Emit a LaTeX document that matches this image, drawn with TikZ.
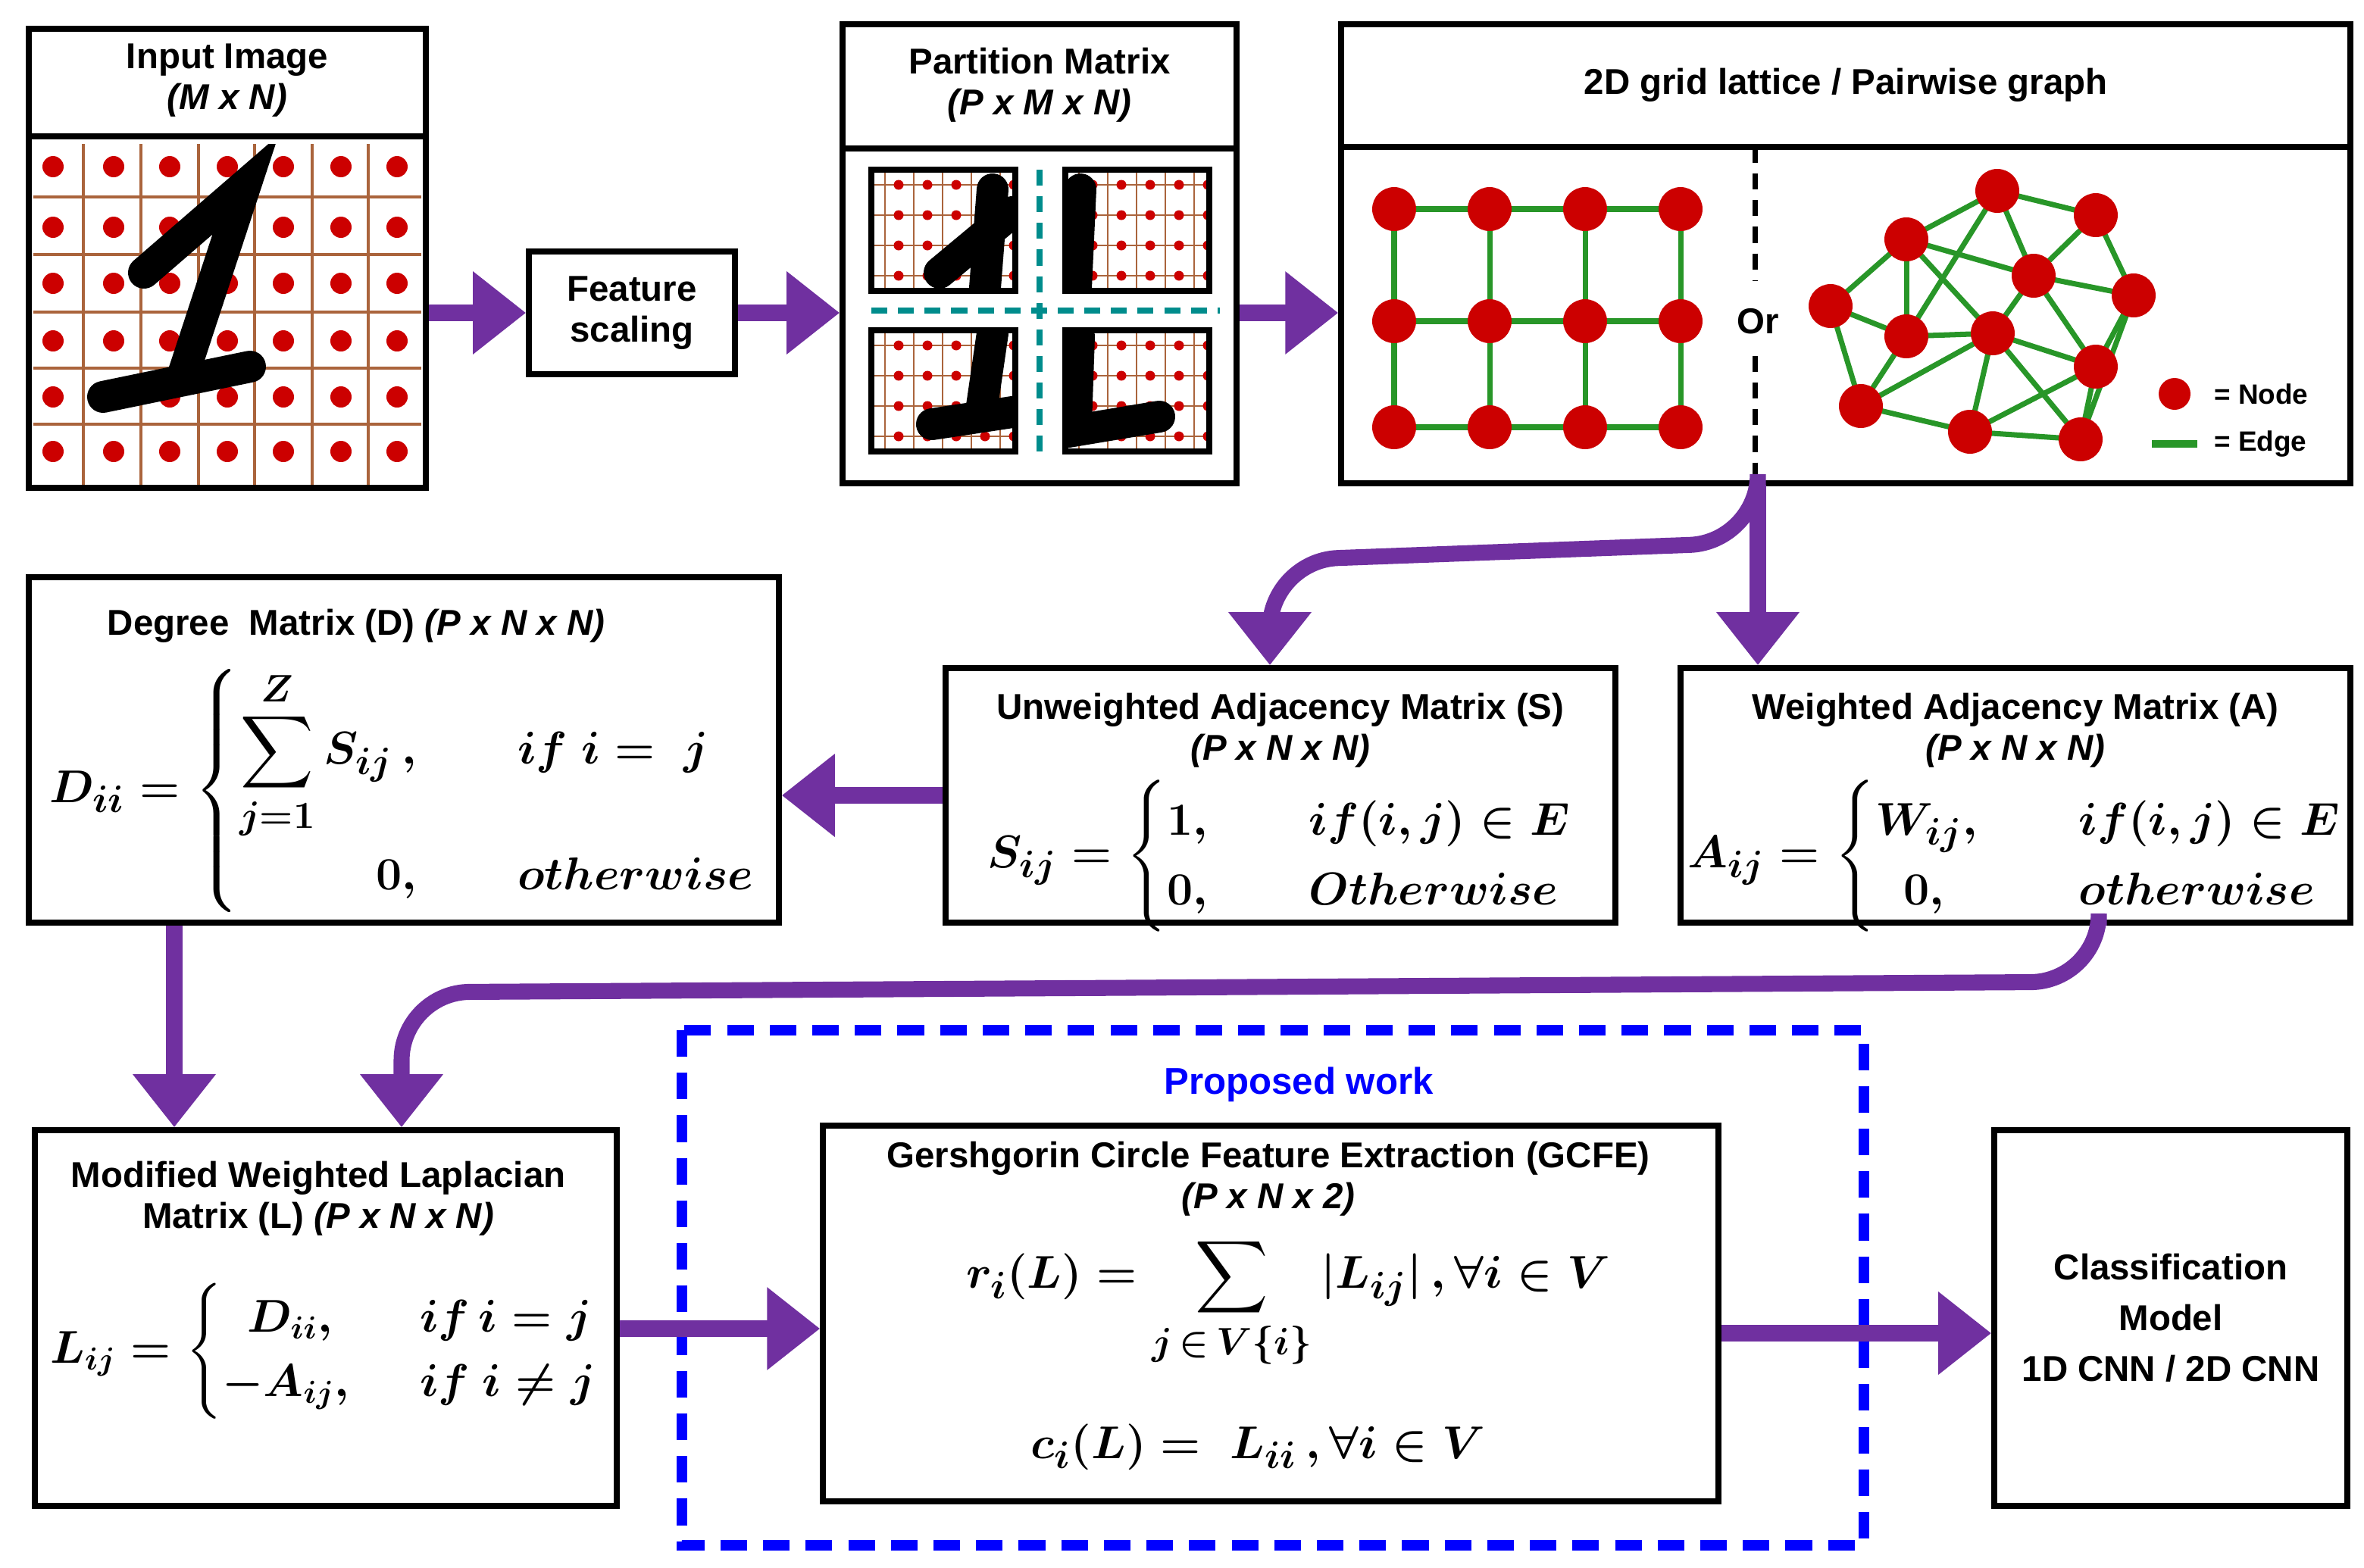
\documentclass[tikz,border=0pt]{standalone}
\usepackage{amsmath,amssymb}
\usepackage{fontspec}
\setmainfont{Liberation Sans}
\usetikzlibrary{arrows.meta}
\begin{document}
\begin{tikzpicture}[x=0.02cm,y=-0.02cm,
 box/.style={draw,line width=2.2pt,rectangle,inner sep=0},
 ttl/.style={font=\fontsize{13.5}{15.5}\selectfont\bfseries,align=center},
 eq/.style={font=\fontsize{19}{22}\selectfont\boldmath},
 parr/.style={line width=6pt,draw=arrp,-{Triangle[length=0.7cm,width=1.05cm]}},
 dot/.style={circle,fill=dotr,inner sep=0,minimum size=0.28cm},
 gn/.style={circle,fill=dotr,inner sep=0,minimum size=0.58cm},
 ge/.style={draw=edgeg,line width=2pt},
 one/.style={line width=0.42cm,line cap=round,black}]
\definecolor{arrp}{RGB}{112,48,160}
\definecolor{dotr}{RGB}{204,0,0}
\definecolor{edgeg}{RGB}{40,150,40}
\definecolor{gridb}{RGB}{170,100,60}
\definecolor{teal1}{RGB}{0,140,140}
\useasboundingbox (0,0) rectangle (1560,1035);
% boxes
\node[box,minimum width=5.24cm,minimum height=6.06cm] (inp) at (150,170.5) {};
\draw[line width=2.2pt] (18,90)--(282,90);
\node[ttl] (inpt) at (150,53) {Input Image\\\textit{(M x N)}};
\begin{scope}
\clip (22,95) rectangle (278,320);
\foreach \x in {55,93,131,168,206,243} \draw[gridb,line width=1pt] (\x,95)--(\x,320);
\foreach \y in {130,168,206,243,280} \draw[gridb,line width=1pt] (22,\y)--(278,\y);
\foreach \x in {35,75,112,150,187,225,262}
 \foreach \y in {110,150,187,225,262,298} \node[dot] at (\x,\y) {};
\draw[one] (95,180)--(162,122)--(120,250);
\draw[one] (68,262)--(165,242);
\end{scope}
\node[box,minimum width=2.72cm,minimum height=1.62cm,ttl] (fs) at (417,206.5) {Feature\\scaling};
\node[box,minimum width=5.2cm,minimum height=6.06cm] (par) at (686,167.5) {};
\draw[line width=2.2pt] (555,98)--(817,98);
\node[ttl] (part) at (686,56) {Partition Matrix\\\textit{(P x M x N)}};
\foreach \qx/\qy/\n in {575/112/a,703/112/b,575/218/c,703/218/d}{
 \begin{scope}
 \clip (\qx,\qy) rectangle ++(95,80);
 \foreach \i in {0,1,2,3,4} \draw[gridb,line width=0.8pt] ({\qx+9+19*\i},\qy)--++(0,80);
 \foreach \j in {0,1,2,3} \draw[gridb,line width=0.8pt] (\qx,{\qy+10+20*\j})--++(95,0);
 \foreach \i in {0,1,2,3,4} \foreach \j in {0,1,2,3} \node[dot,minimum size=0.13cm] at ({\qx+18+19*\i},{\qy+10+20*\j}) {};
 \end{scope}
 \draw[line width=2pt] (\qx,\qy) rectangle ++(95,80);}
\begin{scope}\clip (575,112) rectangle ++(95,80); \draw[one] (620,180)--(668,140); \draw[one] (655,125)--(650,190);\end{scope}
\begin{scope}\clip (703,112) rectangle ++(95,80); \draw[one] (713,125)--(710,190);\end{scope}
\begin{scope}\clip (575,218) rectangle ++(95,80); \draw[one] (655,220)--(648,268); \draw[one] (615,280)--(668,272);\end{scope}
\begin{scope}\clip (703,218) rectangle ++(95,80); \draw[one] (712,222)--(710,280); \draw[one] (705,285)--(765,275);\end{scope}
\draw[teal1,line width=2.5pt,dash pattern=on 6pt off 4pt] (686,112)--(686,300) (575,205)--(805,205);
\node[box,minimum width=13.32cm,minimum height=6.06cm] (grid) at (1218,167.5) {};
\draw[line width=2.2pt] (884,97)--(1552,97);
\node[ttl] (gridt) at (1218,56) {2D grid lattice / Pairwise graph};
\foreach \x [count=\i] in {920,983,1046,1109}{
 \foreach \y [count=\j] in {138,212,282}{\coordinate (g\i\j) at (\x,\y);}}
\foreach \i in {1,2,3,4} \draw[ge] (g\i1)--(g\i3);
\foreach \j in {1,2,3} \draw[ge] (g1\j)--(g4\j);
\foreach \i in {1,2,3,4} \foreach \j in {1,2,3} \node[gn] at (g\i\j) {};
\draw[line width=2pt,dash pattern=on 6pt off 4pt] (1158,97)--(1158,185) (1158,235)--(1158,320);
\node[ttl] (or) at (1160,212) {Or};
\foreach \n/\x/\y in {a/1318/126,b/1383/142,c/1258/158,d/1342/182,e/1408/195,f/1208/202,g/1258/222,h/1315/220,i/1383/242,j/1228/268,k/1300/285,l/1373/290}
 \coordinate (p\n) at (\x,\y);
\foreach \u/\v in {a/b,a/c,a/d,b/d,b/e,c/f,c/g,c/d,c/h,a/g,d/h,d/e,d/i,e/i,f/g,f/j,g/h,g/j,h/i,h/k,h/j,i/k,i/l,e/l,j/k,k/l,h/l}
 \draw[ge] (p\u)--(p\v);
\foreach \n in {a,b,c,d,e,f,g,h,i,j,k,l} \node[gn] at (p\n) {};
\node[gn,minimum size=0.42cm] (ln) at (1435,260) {};
\node[font=\fontsize{10.5}{12}\selectfont\bfseries,anchor=west] (lnt) at (1455,260) {= Node};
\coordinate (le1) at (1420,293); \coordinate (le2) at (1450,293);
\draw[ge,line width=3pt] (le1)--(le2);
\node[font=\fontsize{10.5}{12}\selectfont\bfseries,anchor=west] (let) at (1455,293) {= Edge};
% second row
\node[box,minimum width=9.9cm,minimum height=4.56cm] (deg) at (266.5,495) {};
\node[ttl] (degt) at (235,413) {Degree\ \ Matrix (D) \textit{(P x N x N)}};
\node[eq] (degeq) at (266,522) {$D_{ii}=\begin{cases}\displaystyle\sum_{j=1}^{Z} S_{ij}\,, & \quad if\ i=\ j\\[8pt] \hfill 0, & \quad otherwise\end{cases}$};
\node[box,minimum width=8.84cm,minimum height=3.36cm] (uw) at (845,525) {};
\node[ttl] (uwt) at (845,482) {Unweighted Adjacency Matrix (S)\\\textit{(P x N x N)}};
\node[eq] (uweq) at (845,565) {$S_{ij}=\begin{cases}1, & \quad if(i,j)\in E\\ 0, & \quad Otherwise\end{cases}$};
\node[box,minimum width=8.84cm,minimum height=3.36cm] (wa) at (1330,525) {};
\node[ttl] (wat) at (1330,482) {Weighted Adjacency Matrix (A)\\\textit{(P x N x N)}};
\node[eq] (waeq) at (1330,565) {$A_{ij}=\begin{cases}W_{ij}, & \quad if(i,j)\in E\\ \ \ 0, & \quad otherwise\end{cases}$};
% third row
\node[box,minimum width=7.68cm,minimum height=4.96cm] (lap) at (215,870) {};
\node[ttl] (lapt) at (210,791) {Modified Weighted Laplacian\\Matrix (L) \textit{(P x N x N)}};
\node[eq,font=\fontsize{17}{20}\selectfont\boldmath] (lapeq) at (214,892) {$L_{ij}=\begin{cases}\ \ D_{ii}, & \ \ if\,i=j\\ -A_{ij}, & \ \ if\ i\neq j\end{cases}$};
\draw[blue,line width=4pt,dash pattern=on 10pt off 6pt] (450,680) rectangle (1230,1020);
\node[font=\fontsize{14}{16}\selectfont\bfseries,text=blue] (pw) at (857,716) {Proposed work};
\node[box,minimum width=11.82cm,minimum height=4.96cm] (gc) at (838.5,867) {};
\node[ttl] (gct) at (837,778) {Gershgorin Circle Feature Extraction (GCFE)\\\textit{(P x N x 2)}};
\node[eq] (gceq1) at (850,860) {$r_i(L)=\displaystyle\sum_{j\,\in\, V\{i\}}|L_{ij}|\,,\forall i\in V$};
\node[eq] (gceq2) at (830,955) {$c_i(L)=\ L_{ii}\,,\forall i\in V$};
\node[box,minimum width=4.66cm,minimum height=4.96cm,ttl,font=\fontsize{13.5}{19}\selectfont\bfseries] (cl) at (1432.5,870) {Classification\\Model\\1D CNN / 2D CNN};
% arrows
\draw[parr] (inp.east|-fs) -- (fs.west);
\draw[parr] (fs.east) -- (par.west|-fs);
\draw[parr] (par.east|-fs) -- (grid.west|-fs);
\coordinate (gb) at (1160,320);
\draw[parr] (gb) -- (wa.north-|gb);
\draw[parr,rounded corners=0.9cm] (gb) -- (1160,358) -- (838,370) -- (uw.north-|838,0);
\draw[parr] (uw.west) -- (deg.east|-uw);
\draw[parr] (deg.south-|115,0) -- (lap.north-|115,0);
\draw[parr,rounded corners=0.9cm] (wa.south-|1385,0) -- (1385,648) -- (265,655) -- (lap.north-|265,0);
\draw[parr] (lap.east|-0,877) -- (gc.west|-0,877);
\draw[parr] (gc.east|-0,880) -- (cl.west|-0,880);
\end{tikzpicture}
\end{document}
